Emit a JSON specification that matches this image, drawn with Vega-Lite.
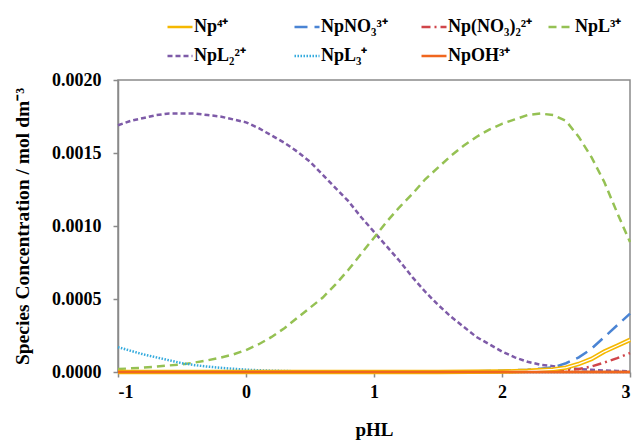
{
  "$schema": "https://vega.github.io/schema/vega-lite/v6.json",
  "autosize": {"type": "none"},
  "width": 512,
  "height": 292,
  "padding": {"left": 118, "top": 80, "right": 7, "bottom": 68},
  "background": "white",
  "config": {
    "view": {"stroke": "#8a8a8a", "strokeWidth": 1.5},
    "font": "Times New Roman"
  },
  "datasets": {
    "d": [
      {"x": -1.0, "s": "NpL₂²⁺", "c": 0.00169}, {"x": -0.9, "s": "NpL₂²⁺", "c": 0.00172}, {"x": -0.8, "s": "NpL₂²⁺", "c": 0.00174}, {"x": -0.7, "s": "NpL₂²⁺", "c": 0.00176}, {"x": -0.6, "s": "NpL₂²⁺", "c": 0.00177}, {"x": -0.5, "s": "NpL₂²⁺", "c": 0.00177}, {"x": -0.4, "s": "NpL₂²⁺", "c": 0.00177}, {"x": -0.3, "s": "NpL₂²⁺", "c": 0.00176}, {"x": -0.2, "s": "NpL₂²⁺", "c": 0.00175}, {"x": -0.1, "s": "NpL₂²⁺", "c": 0.00173},
      {"x": 0.0, "s": "NpL₂²⁺", "c": 0.00171}, {"x": 0.1, "s": "NpL₂²⁺", "c": 0.00167}, {"x": 0.2, "s": "NpL₂²⁺", "c": 0.00162}, {"x": 0.3, "s": "NpL₂²⁺", "c": 0.00157}, {"x": 0.4, "s": "NpL₂²⁺", "c": 0.00151}, {"x": 0.5, "s": "NpL₂²⁺", "c": 0.00144}, {"x": 0.6, "s": "NpL₂²⁺", "c": 0.00135}, {"x": 0.7, "s": "NpL₂²⁺", "c": 0.00126}, {"x": 0.8, "s": "NpL₂²⁺", "c": 0.00117}, {"x": 0.9, "s": "NpL₂²⁺", "c": 0.00106},
      {"x": 1.0, "s": "NpL₂²⁺", "c": 0.00096}, {"x": 1.1, "s": "NpL₂²⁺", "c": 0.00086}, {"x": 1.2, "s": "NpL₂²⁺", "c": 0.00076}, {"x": 1.3, "s": "NpL₂²⁺", "c": 0.00065}, {"x": 1.4, "s": "NpL₂²⁺", "c": 0.00055}, {"x": 1.5, "s": "NpL₂²⁺", "c": 0.00046}, {"x": 1.6, "s": "NpL₂²⁺", "c": 0.00038}, {"x": 1.7, "s": "NpL₂²⁺", "c": 0.00031}, {"x": 1.8, "s": "NpL₂²⁺", "c": 0.00024}, {"x": 1.9, "s": "NpL₂²⁺", "c": 0.00019},
      {"x": 2.0, "s": "NpL₂²⁺", "c": 0.00014}, {"x": 2.1, "s": "NpL₂²⁺", "c": 0.0001}, {"x": 2.2, "s": "NpL₂²⁺", "c": 0.00007}, {"x": 2.3, "s": "NpL₂²⁺", "c": 0.00005}, {"x": 2.4, "s": "NpL₂²⁺", "c": 0.00004}, {"x": 2.5, "s": "NpL₂²⁺", "c": 0.00003}, {"x": 2.6, "s": "NpL₂²⁺", "c": 0.00002}, {"x": 2.7, "s": "NpL₂²⁺", "c": 0.000015}, {"x": 2.8, "s": "NpL₂²⁺", "c": 0.00001}, {"x": 2.9, "s": "NpL₂²⁺", "c": 0.000007}, {"x": 3.0, "s": "NpL₂²⁺", "c": 0.000005},

      {"x": -1.0, "s": "NpL³⁺", "c": 0.00002}, {"x": -0.9, "s": "NpL³⁺", "c": 0.000025}, {"x": -0.8, "s": "NpL³⁺", "c": 0.00003}, {"x": -0.7, "s": "NpL³⁺", "c": 0.000037}, {"x": -0.6, "s": "NpL³⁺", "c": 0.000045}, {"x": -0.5, "s": "NpL³⁺", "c": 0.000052}, {"x": -0.4, "s": "NpL³⁺", "c": 0.000065}, {"x": -0.3, "s": "NpL³⁺", "c": 0.00008}, {"x": -0.2, "s": "NpL³⁺", "c": 0.000098}, {"x": -0.1, "s": "NpL³⁺", "c": 0.00012},
      {"x": 0.0, "s": "NpL³⁺", "c": 0.00015}, {"x": 0.1, "s": "NpL³⁺", "c": 0.00019}, {"x": 0.2, "s": "NpL³⁺", "c": 0.00024}, {"x": 0.3, "s": "NpL³⁺", "c": 0.0003}, {"x": 0.4, "s": "NpL³⁺", "c": 0.00037}, {"x": 0.5, "s": "NpL³⁺", "c": 0.00044}, {"x": 0.6, "s": "NpL³⁺", "c": 0.00051}, {"x": 0.7, "s": "NpL³⁺", "c": 0.0006}, {"x": 0.8, "s": "NpL³⁺", "c": 0.0007}, {"x": 0.9, "s": "NpL³⁺", "c": 0.00081},
      {"x": 1.0, "s": "NpL³⁺", "c": 0.00092}, {"x": 1.1, "s": "NpL³⁺", "c": 0.00103}, {"x": 1.2, "s": "NpL³⁺", "c": 0.00113}, {"x": 1.3, "s": "NpL³⁺", "c": 0.00122}, {"x": 1.4, "s": "NpL³⁺", "c": 0.00132}, {"x": 1.5, "s": "NpL³⁺", "c": 0.0014}, {"x": 1.6, "s": "NpL³⁺", "c": 0.00148}, {"x": 1.7, "s": "NpL³⁺", "c": 0.00155}, {"x": 1.8, "s": "NpL³⁺", "c": 0.00161}, {"x": 1.9, "s": "NpL³⁺", "c": 0.00166},
      {"x": 2.0, "s": "NpL³⁺", "c": 0.0017}, {"x": 2.1, "s": "NpL³⁺", "c": 0.00173}, {"x": 2.2, "s": "NpL³⁺", "c": 0.00176}, {"x": 2.3, "s": "NpL³⁺", "c": 0.00177}, {"x": 2.4, "s": "NpL³⁺", "c": 0.00176}, {"x": 2.5, "s": "NpL³⁺", "c": 0.00172}, {"x": 2.6, "s": "NpL³⁺", "c": 0.00161}, {"x": 2.7, "s": "NpL³⁺", "c": 0.00147}, {"x": 2.8, "s": "NpL³⁺", "c": 0.0013}, {"x": 2.9, "s": "NpL³⁺", "c": 0.00109}, {"x": 3.0, "s": "NpL³⁺", "c": 0.00089},

      {"x": -1.0, "s": "NpL₃⁺", "c": 0.00017}, {"x": -0.9, "s": "NpL₃⁺", "c": 0.000145}, {"x": -0.8, "s": "NpL₃⁺", "c": 0.00012}, {"x": -0.7, "s": "NpL₃⁺", "c": 0.0001}, {"x": -0.6, "s": "NpL₃⁺", "c": 0.00008}, {"x": -0.5, "s": "NpL₃⁺", "c": 0.00006}, {"x": -0.4, "s": "NpL₃⁺", "c": 0.000047}, {"x": -0.3, "s": "NpL₃⁺", "c": 0.000037}, {"x": -0.2, "s": "NpL₃⁺", "c": 0.000029}, {"x": -0.1, "s": "NpL₃⁺", "c": 0.000022},
      {"x": 0.0, "s": "NpL₃⁺", "c": 0.000016}, {"x": 0.1, "s": "NpL₃⁺", "c": 0.000012}, {"x": 0.2, "s": "NpL₃⁺", "c": 0.000009}, {"x": 0.3, "s": "NpL₃⁺", "c": 0.000007}, {"x": 0.4, "s": "NpL₃⁺", "c": 0.000005}, {"x": 0.5, "s": "NpL₃⁺", "c": 0.000003}, {"x": 0.7, "s": "NpL₃⁺", "c": 0.000002}, {"x": 1.0, "s": "NpL₃⁺", "c": 0.000001}, {"x": 1.5, "s": "NpL₃⁺", "c": 0.0}, {"x": 3.0, "s": "NpL₃⁺", "c": 0.0},

      {"x": -1.0, "s": "NpNO₃³⁺", "c": 0.0}, {"x": 1.3, "s": "NpNO₃³⁺", "c": 0.0}, {"x": 1.5, "s": "NpNO₃³⁺", "c": 0.000002}, {"x": 1.7, "s": "NpNO₃³⁺", "c": 0.000004}, {"x": 1.9, "s": "NpNO₃³⁺", "c": 0.000007}, {"x": 2.0, "s": "NpNO₃³⁺", "c": 0.000009}, {"x": 2.1, "s": "NpNO₃³⁺", "c": 0.000012}, {"x": 2.2, "s": "NpNO₃³⁺", "c": 0.000016}, {"x": 2.3, "s": "NpNO₃³⁺", "c": 0.000023}, {"x": 2.4, "s": "NpNO₃³⁺", "c": 0.000032}, {"x": 2.5, "s": "NpNO₃³⁺", "c": 0.00006}, {"x": 2.6, "s": "NpNO₃³⁺", "c": 0.0001}, {"x": 2.7, "s": "NpNO₃³⁺", "c": 0.00016}, {"x": 2.8, "s": "NpNO₃³⁺", "c": 0.00024}, {"x": 2.9, "s": "NpNO₃³⁺", "c": 0.00032}, {"x": 3.0, "s": "NpNO₃³⁺", "c": 0.0004},

      {"x": -1.0, "s": "Np⁴⁺", "c": 0.0}, {"x": 1.5, "s": "Np⁴⁺", "c": 0.0}, {"x": 2.0, "s": "Np⁴⁺", "c": 0.000003}, {"x": 2.2, "s": "Np⁴⁺", "c": 0.000008}, {"x": 2.4, "s": "Np⁴⁺", "c": 0.000018}, {"x": 2.5, "s": "Np⁴⁺", "c": 0.00003}, {"x": 2.6, "s": "Np⁴⁺", "c": 0.000055}, {"x": 2.7, "s": "Np⁴⁺", "c": 0.00009}, {"x": 2.8, "s": "Np⁴⁺", "c": 0.00014}, {"x": 2.9, "s": "Np⁴⁺", "c": 0.00018}, {"x": 3.0, "s": "Np⁴⁺", "c": 0.00022},

      {"x": -1.0, "s": "Np(NO₃)₂²⁺", "c": 0.0}, {"x": 1.5, "s": "Np(NO₃)₂²⁺", "c": 0.0}, {"x": 2.0, "s": "Np(NO₃)₂²⁺", "c": 0.000002}, {"x": 2.2, "s": "Np(NO₃)₂²⁺", "c": 0.000004}, {"x": 2.4, "s": "Np(NO₃)₂²⁺", "c": 0.000009}, {"x": 2.5, "s": "Np(NO₃)₂²⁺", "c": 0.000012}, {"x": 2.6, "s": "Np(NO₃)₂²⁺", "c": 0.00002}, {"x": 2.7, "s": "Np(NO₃)₂²⁺", "c": 0.000038}, {"x": 2.8, "s": "Np(NO₃)₂²⁺", "c": 0.000065}, {"x": 2.9, "s": "Np(NO₃)₂²⁺", "c": 0.000095}, {"x": 3.0, "s": "Np(NO₃)₂²⁺", "c": 0.00013},

      {"x": -1.0, "s": "NpOH³⁺", "c": 0.0}, {"x": 1.0, "s": "NpOH³⁺", "c": 0.0}, {"x": 3.0, "s": "NpOH³⁺", "c": 0.0}
    ]
  },
  "data": {"name": "d"},
  "encoding": {
    "x": {
      "field": "x", "type": "quantitative",
      "scale": {"domain": [-1, 3], "nice": false, "zero": false},
      "axis": {
        "values": [-1, 0, 1, 2, 3],
        "labelExpr": "'' + datum.value",
        "title": "pHL",
        "grid": false,
        "domainColor": "#8a8a8a", "domainWidth": 1.5,
        "tickColor": "#8a8a8a", "tickWidth": 1.5, "tickSize": 5,
        "labelFont": "Times New Roman", "labelFontSize": 18, "labelFontWeight": "bold", "labelColor": "black", "labelPadding": 6,
        "titleFont": "Times New Roman", "titleFontSize": 19, "titleFontWeight": "bold", "titleColor": "black", "titlePadding": 19
      }
    },
    "y": {
      "field": "c", "type": "quantitative",
      "scale": {"domain": [0, 0.002], "nice": false},
      "axis": {
        "values": [0, 0.0005, 0.001, 0.0015, 0.002],
        "format": ".4f",
        "title": "Species Concentration / mol dm⁻³",
        "grid": false,
        "domainColor": "#8a8a8a", "domainWidth": 1.5,
        "tickColor": "#8a8a8a", "tickWidth": 1.5, "tickSize": 5,
        "labelFont": "Times New Roman", "labelFontSize": 18, "labelFontWeight": "bold", "labelColor": "black", "labelPadding": 12,
        "titleFont": "Times New Roman", "titleFontSize": 19.5, "titleFontWeight": "bold", "titleColor": "black", "titlePadding": 19
      }
    }
  },
  "layer": [
    {
      "mark": {"type": "line", "strokeWidth": 2.5},
      "encoding": {
        "color": {
          "field": "s", "type": "nominal",
          "scale": {
            "domain": ["Np⁴⁺", "NpNO₃³⁺", "Np(NO₃)₂²⁺", "NpL³⁺", "NpL₂²⁺", "NpL₃⁺", "NpOH³⁺"],
            "range": ["#F5B800", "#4A84D4", "#D0454A", "#95C153", "#7E5BA8", "#33AADD", "#F0661E"]
          },
          "legend": {
            "title": null,
            "orient": "none",
            "legendX": 48,
            "legendY": -67,
            "direction": "horizontal",
            "columns": 4,
            "gridAlign": "all",
            "columnPadding": 10,
            "rowPadding": 6,
            "symbolType": "stroke",
            "symbolSize": 625,
            "symbolStrokeWidth": 2.5,
            "labelFont": "Times New Roman",
            "labelFontSize": 18,
            "labelFontWeight": "bold",
            "labelColor": "black",
            "labelOffset": 0,
            "labelLimit": 200
          }
        },
        "strokeDash": {
          "field": "s", "type": "nominal",
          "scale": {
            "domain": ["Np⁴⁺", "NpNO₃³⁺", "Np(NO₃)₂²⁺", "NpL³⁺", "NpL₂²⁺", "NpL₃⁺", "NpOH³⁺"],
            "range": [[1, 0], [13, 7], [9, 4, 2, 4], [8, 5], [5, 3], [1.5, 1.5], [1, 0]]
          },
          "legend": null
        }
      }
    },
    {
      "transform": [{"filter": "datum.s == 'Np⁴⁺'"}],
      "mark": {"type": "line", "strokeWidth": 4.5, "color": "#F5B800"},
      "encoding": {}
    },
    {
      "transform": [{"filter": "datum.s == 'Np⁴⁺'"}],
      "mark": {"type": "line", "strokeWidth": 1.3, "color": "white"},
      "encoding": {}
    },
    {
      "transform": [{"filter": "datum.s == 'NpOH³⁺'"}],
      "mark": {"type": "line", "strokeWidth": 2.5, "color": "#F0661E"},
      "encoding": {}
    }
  ]
}
